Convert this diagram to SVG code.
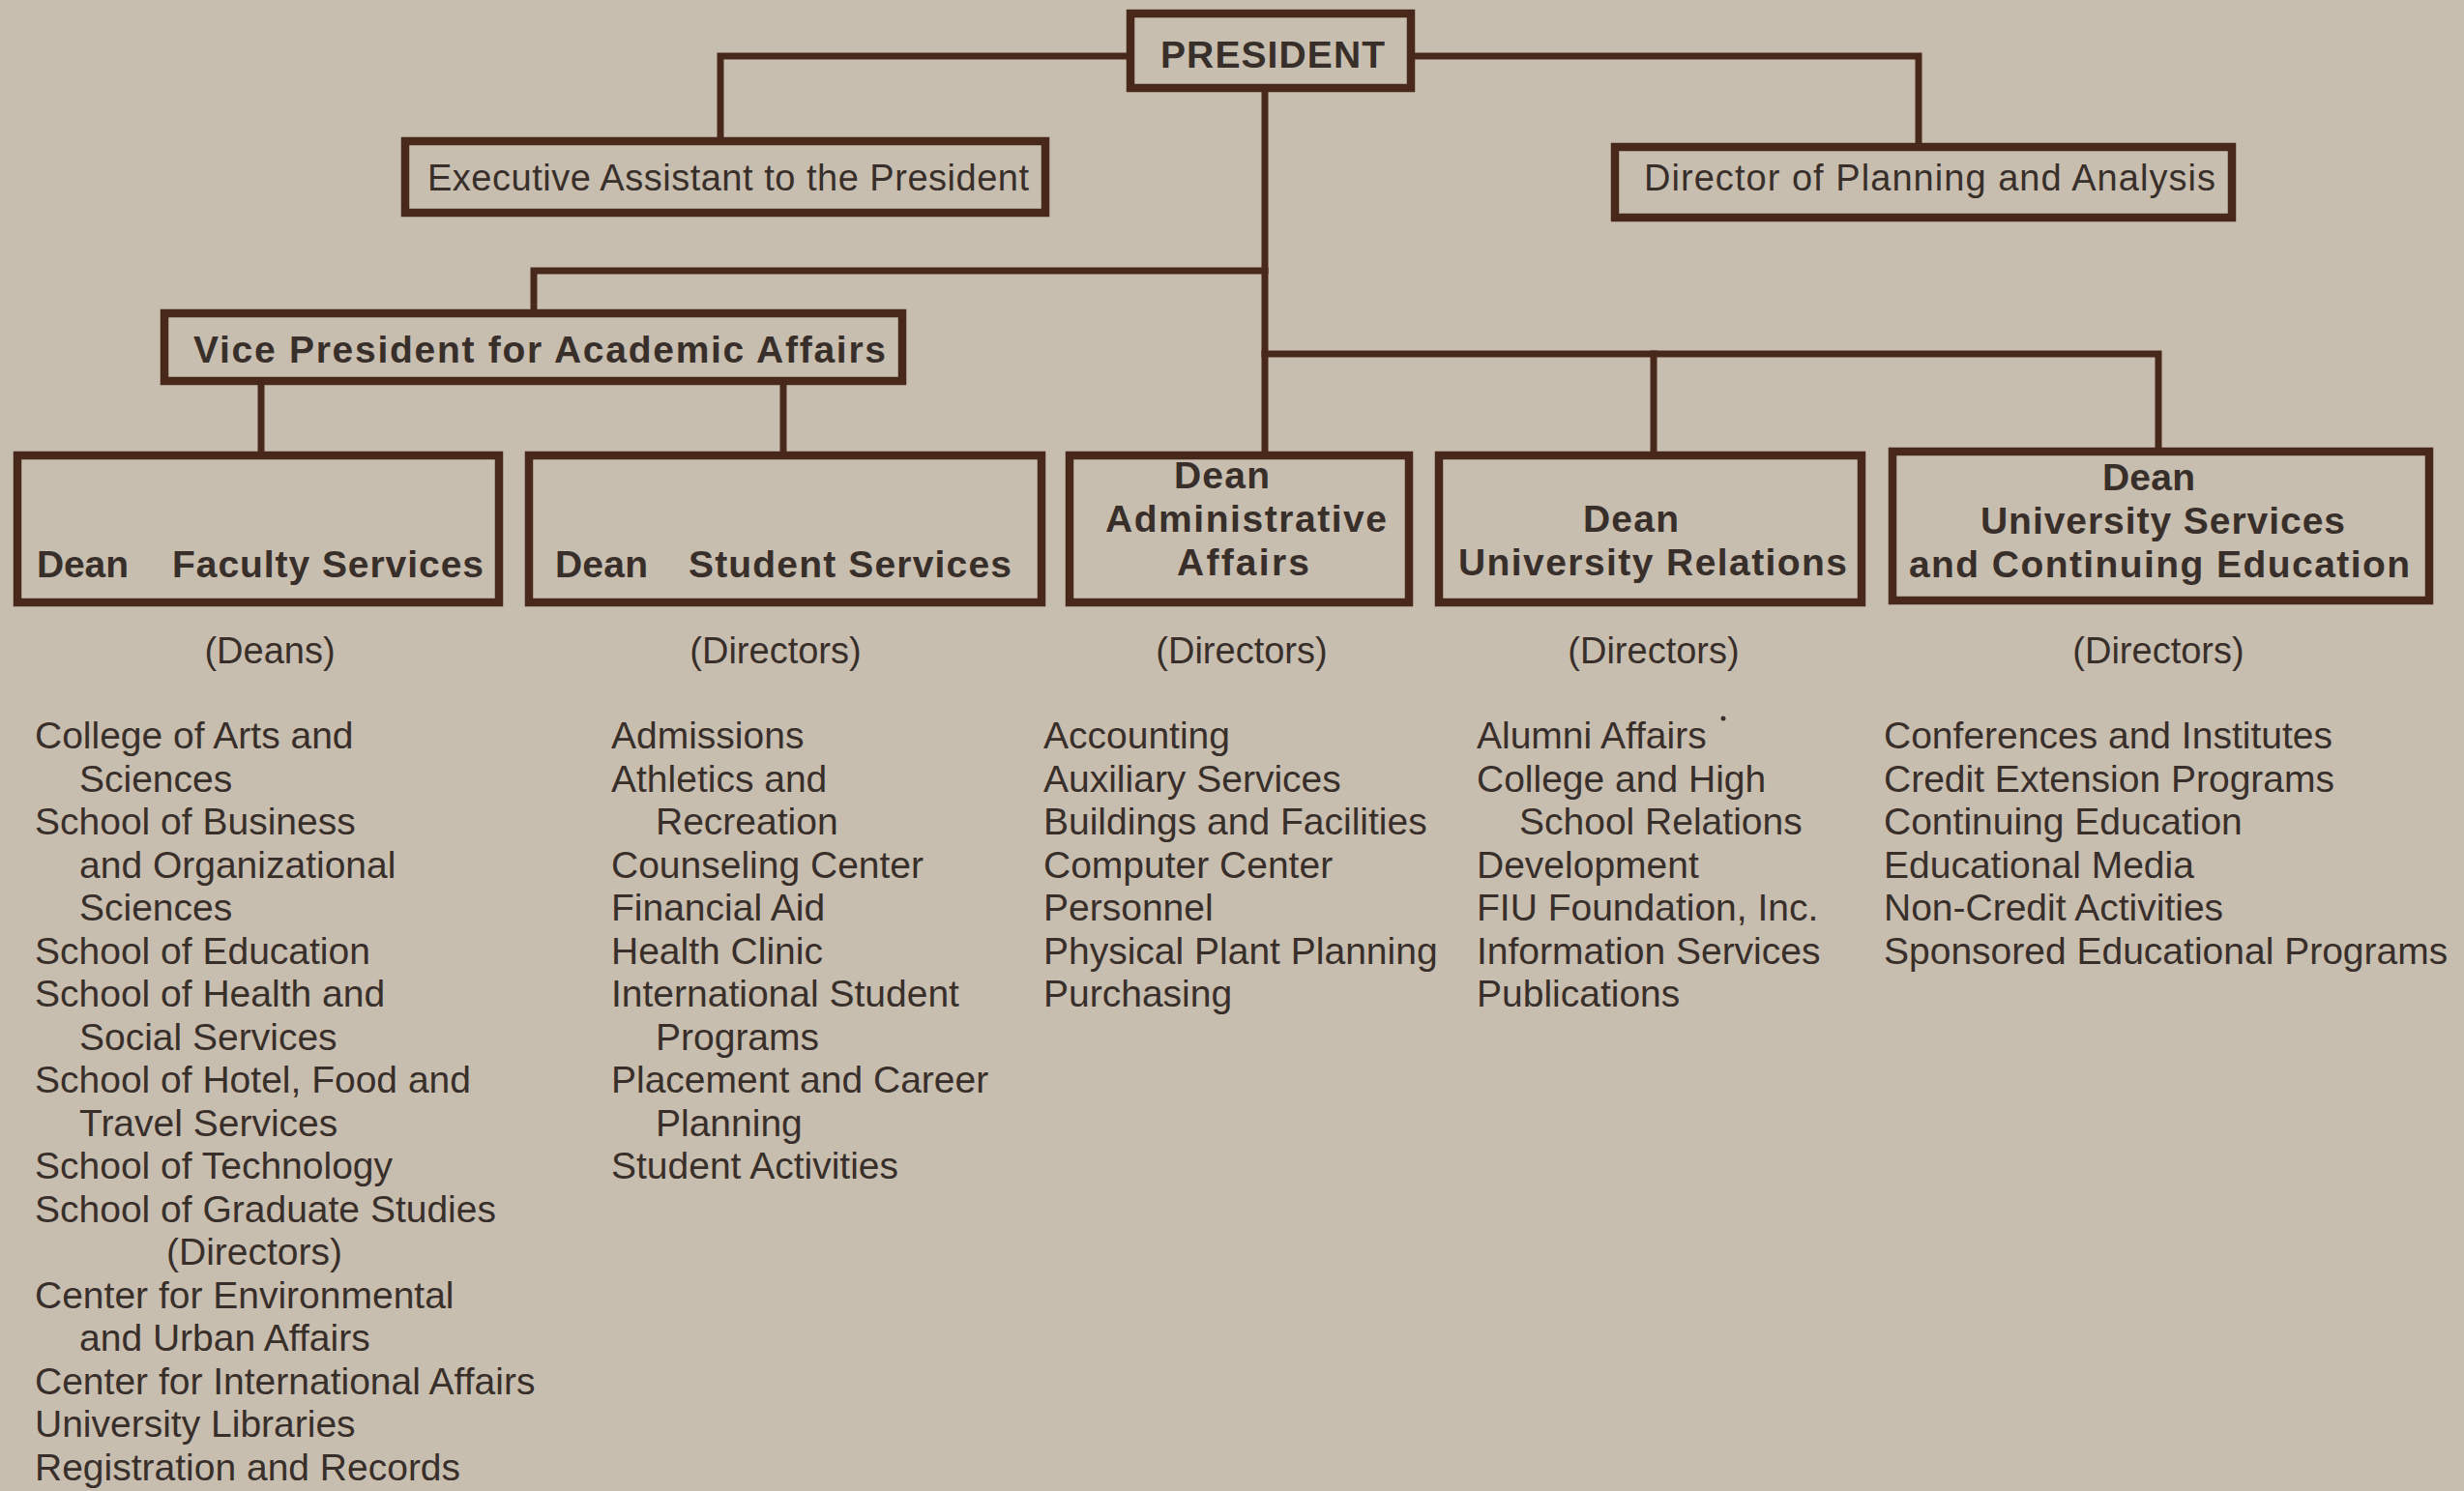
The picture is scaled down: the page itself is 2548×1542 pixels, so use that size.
<svg xmlns="http://www.w3.org/2000/svg" width="2548" height="1542" viewBox="0 0 2548 1542">
<style>
.box{fill:none;stroke:#48281b;stroke-width:8.5}
.con{fill:none;stroke:#48281b;stroke-width:7;stroke-linejoin:miter;stroke-linecap:square}
text{font-family:"Liberation Sans",Arial,sans-serif;fill:#382f2a}
.b{font-weight:bold;font-size:39px}
.r{font-size:38px}
.h{font-size:38px;text-anchor:middle}
.l{font-size:39px}
.c{text-anchor:middle}
</style>
<rect x="0" y="0" width="2548" height="1542" fill="#c8beb0"/>
<g id="connectors">
<path class="con" d="M1165 58 H745 V142"/>
<path class="con" d="M1463 58 H1984 V148"/>
<path class="con" d="M1308 95 V467"/>
<path class="con" d="M1308 280 H552 V320"/>
<path class="con" d="M270 398 V467"/>
<path class="con" d="M810 398 V467"/>
<path class="con" d="M1308 366 H2232 V463"/>
<path class="con" d="M1710 366 V467"/>
</g>
<g id="president">
<rect class="box" x="1169" y="14" width="290" height="77"/>
<text class="b c" x="1316" y="70" textLength="232">PRESIDENT</text>
</g>
<g id="exec-assistant">
<rect class="box" x="419" y="146" width="662" height="74"/>
<text class="r" x="442" y="197" textLength="622">Executive Assistant to the President</text>
</g>
<g id="director-planning">
<rect class="box" x="1670" y="152" width="638" height="73"/>
<text class="r" x="1700" y="197" textLength="591">Director of Planning and Analysis</text>
</g>
<g id="vp-academic">
<rect class="box" x="170" y="324" width="763" height="70"/>
<text class="b" x="200" y="375" textLength="716">Vice President for Academic Affairs</text>
</g>
<g id="dean-faculty">
<rect class="box" x="18" y="471" width="498" height="152"/>
<text class="b" x="38" y="597" textLength="95">Dean</text>
<text class="b" x="178" y="597" textLength="322">Faculty Services</text>
</g>
<g id="dean-student">
<rect class="box" x="547" y="471" width="530" height="152"/>
<text class="b" x="574" y="597" textLength="96">Dean</text>
<text class="b" x="712" y="597" textLength="334">Student Services</text>
</g>
<g id="dean-admin">
<rect class="box" x="1106" y="471" width="351" height="152"/>
<text class="b" x="1214" y="505" textLength="99">Dean</text>
<text class="b" x="1143" y="550" textLength="291">Administrative</text>
<text class="b" x="1217" y="595" textLength="137">Affairs</text>
</g>
<g id="dean-relations">
<rect class="box" x="1488" y="471" width="437" height="152"/>
<text class="b" x="1637" y="550" textLength="99">Dean</text>
<text class="b" x="1508" y="595" textLength="402">University Relations</text>
</g>
<g id="dean-services">
<rect class="box" x="1957" y="467" width="555" height="154"/>
<text class="b" x="2174" y="507" textLength="96">Dean</text>
<text class="b" x="2048" y="552" textLength="377">University Services</text>
<text class="b" x="1974" y="597" textLength="518">and Continuing Education</text>
</g>
<g id="headings">
<text class="h" x="279" y="686">(Deans)</text>
<text class="h" x="802" y="686">(Directors)</text>
<text class="h" x="1284" y="686">(Directors)</text>
<text class="h" x="1710" y="686">(Directors)</text>
<text class="h" x="2232" y="686">(Directors)</text>
</g>
<g id="list-deans">
<text class="l">
<tspan x="36" y="774">College of Arts and</tspan>
<tspan x="82" y="818.5">Sciences</tspan>
<tspan x="36" y="863">School of Business</tspan>
<tspan x="82" y="907.5">and Organizational</tspan>
<tspan x="82" y="952">Sciences</tspan>
<tspan x="36" y="996.5">School of Education</tspan>
<tspan x="36" y="1041">School of Health and</tspan>
<tspan x="82" y="1085.5">Social Services</tspan>
<tspan x="36" y="1130">School of Hotel, Food and</tspan>
<tspan x="82" y="1174.5">Travel Services</tspan>
<tspan x="36" y="1219">School of Technology</tspan>
<tspan x="36" y="1263.5">School of Graduate Studies</tspan>
<tspan x="172" y="1308">(Directors)</tspan>
<tspan x="36" y="1352.5">Center for Environmental</tspan>
<tspan x="82" y="1397">and Urban Affairs</tspan>
<tspan x="36" y="1441.5">Center for International Affairs</tspan>
<tspan x="36" y="1486">University Libraries</tspan>
<tspan x="36" y="1530.5">Registration and Records</tspan>
</text>
</g>
<g id="list-student">
<text class="l">
<tspan x="632" y="774">Admissions</tspan>
<tspan x="632" y="818.5">Athletics and</tspan>
<tspan x="678" y="863">Recreation</tspan>
<tspan x="632" y="907.5">Counseling Center</tspan>
<tspan x="632" y="952">Financial Aid</tspan>
<tspan x="632" y="996.5">Health Clinic</tspan>
<tspan x="632" y="1041">International Student</tspan>
<tspan x="678" y="1085.5">Programs</tspan>
<tspan x="632" y="1130">Placement and Career</tspan>
<tspan x="678" y="1174.5">Planning</tspan>
<tspan x="632" y="1219">Student Activities</tspan>
</text>
</g>
<g id="list-admin">
<text class="l">
<tspan x="1079" y="774">Accounting</tspan>
<tspan x="1079" y="818.5">Auxiliary Services</tspan>
<tspan x="1079" y="863">Buildings and Facilities</tspan>
<tspan x="1079" y="907.5">Computer Center</tspan>
<tspan x="1079" y="952">Personnel</tspan>
<tspan x="1079" y="996.5">Physical Plant Planning</tspan>
<tspan x="1079" y="1041">Purchasing</tspan>
</text>
</g>
<g id="list-relations">
<text class="l">
<tspan x="1527" y="774">Alumni Affairs</tspan>
<tspan x="1527" y="818.5">College and High</tspan>
<tspan x="1571" y="863">School Relations</tspan>
<tspan x="1527" y="907.5">Development</tspan>
<tspan x="1527" y="952">FIU Foundation, Inc.</tspan>
<tspan x="1527" y="996.5">Information Services</tspan>
<tspan x="1527" y="1041">Publications</tspan>
</text>
<circle cx="1782" cy="743" r="2.5" fill="#382f2a"/>
</g>
<g id="list-services">
<text class="l">
<tspan x="1948" y="774">Conferences and Institutes</tspan>
<tspan x="1948" y="818.5">Credit Extension Programs</tspan>
<tspan x="1948" y="863">Continuing Education</tspan>
<tspan x="1948" y="907.5">Educational Media</tspan>
<tspan x="1948" y="952">Non-Credit Activities</tspan>
<tspan x="1948" y="996.5">Sponsored Educational Programs</tspan>
</text>
</g>
</svg>
